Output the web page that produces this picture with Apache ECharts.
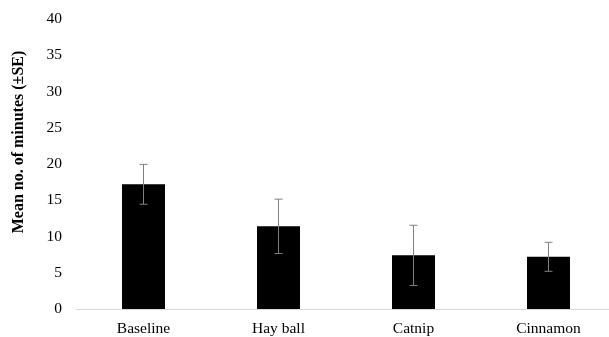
<!DOCTYPE html>
<html>
<head>
<meta charset="utf-8">
<script src="https://cdn.jsdelivr.net/npm/echarts@6/dist/echarts.min.js"></script>
<style>
  html, body { margin: 0; padding: 0; background: #fff; overflow: hidden; width: 609px; height: 337px; }
  #chart { width: 616px; height: 337px; }
</style>
</head>
<body>
<div id="chart"></div>
<script>
// Mean minutes per enrichment condition, with standard errors
const categories = ['Baseline', 'Hay ball', 'Catnip', 'Cinnamon'];
const means = [17.2, 11.4, 7.4, 7.2];
const stdErrors = [2.75, 3.75, 4.15, 2.0];
const yTicks = [0, 5, 10, 15, 20, 25, 30, 35, 40];

const serif = '"Liberation Serif", "Times New Roman", serif';

const errorData = categories.map((c, i) => [i, means[i] - stdErrors[i], means[i] + stdErrors[i]]);

// The plot area runs slightly past the right edge of the visible page
const chart = echarts.init(document.getElementById('chart'));
chart.setOption({
  animation: false,
  backgroundColor: '#ffffff',
  grid: { left: 76, top: 19, right: 0, bottom: 26 },
  xAxis: {
    type: 'category',
    data: categories,
    axisLine: { lineStyle: { color: '#d9d9d9', width: 1 } },
    axisTick: { show: false },
    axisLabel: { color: '#000', fontFamily: serif, fontSize: 15.5, margin: 12 }
  },
  yAxis: {
    type: 'value',
    min: yTicks[0],
    max: yTicks[yTicks.length - 1],
    interval: yTicks[1] - yTicks[0],
    axisLine: { show: false },
    axisTick: { show: false },
    splitLine: { show: false },
    axisLabel: { color: '#000', fontFamily: serif, fontSize: 15.5, margin: 14 }
  },
  graphic: [{
    type: 'text',
    x: 19,
    y: 142,
    rotation: Math.PI / 2,
    style: {
      text: 'Mean no. of minutes (±SE)',
      fontFamily: serif,
      fontWeight: 'bold',
      fontSize: 16,
      fill: '#000',
      textAlign: 'center',
      textVerticalAlign: 'middle'
    }
  }],
  series: [
    {
      type: 'bar',
      data: means,
      barWidth: 43,
      itemStyle: { color: '#000' }
    },
    {
      type: 'custom',
      data: errorData,
      z: 10,
      renderItem: function (params, api) {
        const x = api.value(0);
        const lo = api.coord([x, api.value(1)]);
        const hi = api.coord([x, api.value(2)]);
        const cap = 4;
        const style = { stroke: '#808080', lineWidth: 1 };
        return {
          type: 'group',
          children: [
            { type: 'line', shape: { x1: hi[0], y1: hi[1], x2: lo[0], y2: lo[1] }, style: style },
            { type: 'line', shape: { x1: hi[0] - cap, y1: hi[1], x2: hi[0] + cap, y2: hi[1] }, style: style },
            { type: 'line', shape: { x1: lo[0] - cap, y1: lo[1], x2: lo[0] + cap, y2: lo[1] }, style: style }
          ]
        };
      }
    }
  ]
});
</script>
</body>
</html>
